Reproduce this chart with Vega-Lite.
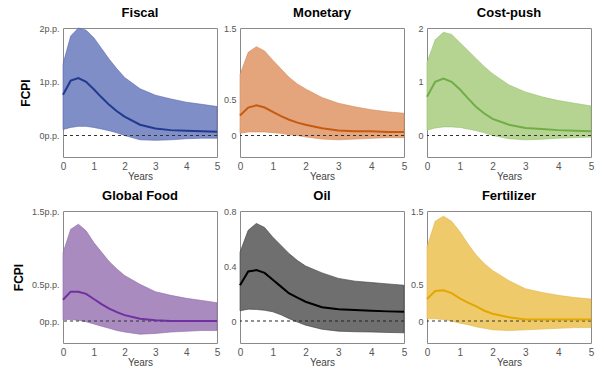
{
  "$schema": "https://vega.github.io/schema/vega-lite/v6.json",
  "padding": {"left": 11, "top": 6, "right": 5, "bottom": 5},
  "datasets": {
    "fiscal": [
      {"x":0,"hi":1.33,"m":0.76,"lo":0.11},{"x":0.25,"hi":1.85,"m":1.02,"lo":0.15},{"x":0.5,"hi":2.0,"m":1.07,"lo":0.17},{"x":0.75,"hi":1.96,"m":1.0,"lo":0.17},{"x":1,"hi":1.82,"m":0.86,"lo":0.15},{"x":1.25,"hi":1.62,"m":0.71,"lo":0.12},{"x":1.5,"hi":1.42,"m":0.57,"lo":0.09},{"x":1.75,"hi":1.24,"m":0.45,"lo":0.05},{"x":2,"hi":1.08,"m":0.35,"lo":0.0},{"x":2.5,"hi":0.87,"m":0.2,"lo":-0.08},{"x":3,"hi":0.75,"m":0.13,"lo":-0.09},{"x":3.5,"hi":0.68,"m":0.1,"lo":-0.08},{"x":4,"hi":0.62,"m":0.09,"lo":-0.06},{"x":4.5,"hi":0.58,"m":0.08,"lo":-0.05},{"x":5,"hi":0.54,"m":0.07,"lo":-0.05}
    ],
    "monetary": [
      {"x":0,"hi":0.85,"m":0.28,"lo":0.03},{"x":0.25,"hi":1.16,"m":0.39,"lo":0.05},{"x":0.5,"hi":1.24,"m":0.42,"lo":0.05},{"x":0.75,"hi":1.18,"m":0.39,"lo":0.05},{"x":1,"hi":1.05,"m":0.33,"lo":0.04},{"x":1.25,"hi":0.93,"m":0.27,"lo":0.03},{"x":1.5,"hi":0.81,"m":0.22,"lo":0.01},{"x":1.75,"hi":0.72,"m":0.18,"lo":0.0},{"x":2,"hi":0.65,"m":0.15,"lo":-0.02},{"x":2.5,"hi":0.53,"m":0.1,"lo":-0.05},{"x":3,"hi":0.45,"m":0.07,"lo":-0.06},{"x":3.5,"hi":0.4,"m":0.06,"lo":-0.05},{"x":4,"hi":0.36,"m":0.06,"lo":-0.04},{"x":4.5,"hi":0.33,"m":0.05,"lo":-0.03},{"x":5,"hi":0.31,"m":0.05,"lo":-0.03}
    ],
    "costpush": [
      {"x":0,"hi":1.36,"m":0.72,"lo":0.1},{"x":0.25,"hi":1.78,"m":1.0,"lo":0.14},{"x":0.5,"hi":1.92,"m":1.06,"lo":0.16},{"x":0.75,"hi":1.88,"m":1.0,"lo":0.16},{"x":1,"hi":1.73,"m":0.86,"lo":0.15},{"x":1.25,"hi":1.58,"m":0.69,"lo":0.12},{"x":1.5,"hi":1.43,"m":0.53,"lo":0.09},{"x":1.75,"hi":1.28,"m":0.41,"lo":0.05},{"x":2,"hi":1.15,"m":0.31,"lo":0.0},{"x":2.5,"hi":0.94,"m":0.2,"lo":-0.06},{"x":3,"hi":0.81,"m":0.14,"lo":-0.08},{"x":3.5,"hi":0.72,"m":0.12,"lo":-0.07},{"x":4,"hi":0.65,"m":0.1,"lo":-0.05},{"x":4.5,"hi":0.6,"m":0.09,"lo":-0.04},{"x":5,"hi":0.55,"m":0.08,"lo":-0.03}
    ],
    "food": [
      {"x":0,"hi":0.93,"m":0.29,"lo":0.02},{"x":0.25,"hi":1.25,"m":0.4,"lo":0.02},{"x":0.5,"hi":1.32,"m":0.4,"lo":0.01},{"x":0.75,"hi":1.23,"m":0.37,"lo":-0.01},{"x":1,"hi":1.07,"m":0.3,"lo":-0.04},{"x":1.25,"hi":0.94,"m":0.23,"lo":-0.07},{"x":1.5,"hi":0.81,"m":0.17,"lo":-0.1},{"x":1.75,"hi":0.71,"m":0.12,"lo":-0.13},{"x":2,"hi":0.62,"m":0.08,"lo":-0.15},{"x":2.5,"hi":0.5,"m":0.03,"lo":-0.18},{"x":3,"hi":0.4,"m":0.01,"lo":-0.17},{"x":3.5,"hi":0.35,"m":0.0,"lo":-0.15},{"x":4,"hi":0.31,"m":0.0,"lo":-0.14},{"x":4.5,"hi":0.28,"m":0.0,"lo":-0.13},{"x":5,"hi":0.25,"m":0.0,"lo":-0.13}
    ],
    "oil": [
      {"x":0,"hi":0.5,"m":0.26,"lo":0.074},{"x":0.25,"hi":0.66,"m":0.36,"lo":0.086},{"x":0.5,"hi":0.71,"m":0.37,"lo":0.084},{"x":0.75,"hi":0.68,"m":0.35,"lo":0.078},{"x":1,"hi":0.61,"m":0.3,"lo":0.067},{"x":1.25,"hi":0.55,"m":0.25,"lo":0.045},{"x":1.5,"hi":0.49,"m":0.2,"lo":0.017},{"x":1.75,"hi":0.44,"m":0.17,"lo":-0.008},{"x":2,"hi":0.4,"m":0.14,"lo":-0.03},{"x":2.5,"hi":0.35,"m":0.1,"lo":-0.06},{"x":3,"hi":0.31,"m":0.086,"lo":-0.074},{"x":3.5,"hi":0.29,"m":0.08,"lo":-0.078},{"x":4,"hi":0.28,"m":0.074,"lo":-0.08},{"x":4.5,"hi":0.27,"m":0.07,"lo":-0.083},{"x":5,"hi":0.26,"m":0.067,"lo":-0.086}
    ],
    "fert": [
      {"x":0,"hi":1.01,"m":0.3,"lo":0.03},{"x":0.25,"hi":1.36,"m":0.41,"lo":0.03},{"x":0.5,"hi":1.43,"m":0.42,"lo":0.02},{"x":0.75,"hi":1.36,"m":0.38,"lo":0.0},{"x":1,"hi":1.22,"m":0.31,"lo":-0.03},{"x":1.25,"hi":1.05,"m":0.25,"lo":-0.05},{"x":1.5,"hi":0.9,"m":0.2,"lo":-0.08},{"x":1.75,"hi":0.78,"m":0.14,"lo":-0.1},{"x":2,"hi":0.69,"m":0.1,"lo":-0.12},{"x":2.5,"hi":0.55,"m":0.05,"lo":-0.13},{"x":3,"hi":0.44,"m":0.02,"lo":-0.12},{"x":3.5,"hi":0.39,"m":0.02,"lo":-0.11},{"x":4,"hi":0.35,"m":0.02,"lo":-0.1},{"x":4.5,"hi":0.32,"m":0.02,"lo":-0.09},{"x":5,"hi":0.3,"m":0.02,"lo":-0.09}
    ]
  },
  "columns": 3,
  "spacing": {"row": 54, "column": 23},
  "bounds": "flush",
  "concat": [
    {
      "width": 154, "height": 129, "title": "Fiscal", "data": {"name": "fiscal"},
      "layer": [
        {"mark": {"type": "area", "color": "#7f8ec7", "opacity": 1, "stroke": "#5565ad", "strokeWidth": 0.6},
         "encoding": {"x": {"field": "x", "type": "quantitative", "scale": {"domain": [0, 5], "nice": false}, "axis": {"values": [0,1,2,3,4,5], "labelOverlap": false, "title": "Years"}},
                      "y": {"field": "hi", "type": "quantitative", "scale": {"domain": [-0.4, 2], "nice": false, "zero": false}, "axis": {"values": [0,1,2], "labelExpr": "datum.value + 'p.p.'", "title": "FCPI"}},
                      "y2": {"field": "lo"}}},
        {"data": {"values": [{}]}, "mark": {"type": "rule", "color": "#333", "strokeDash": [3, 3], "strokeWidth": 1}, "encoding": {"y": {"datum": 0}}},
        {"mark": {"type": "line", "color": "#22398f", "strokeWidth": 2},
         "encoding": {"x": {"field": "x", "type": "quantitative", "axis": {"values": [0,1,2,3,4,5], "labelOverlap": false, "title": "Years"}}, "y": {"field": "m", "type": "quantitative"}}}
      ]
    },
    {
      "width": 164, "height": 129, "title": "Monetary", "data": {"name": "monetary"},
      "layer": [
        {"mark": {"type": "area", "color": "#e5a57c", "opacity": 1, "stroke": "#d48a5c", "strokeWidth": 0.6},
         "encoding": {"x": {"field": "x", "type": "quantitative", "scale": {"domain": [0, 5], "nice": false}, "axis": {"values": [0,1,2,3,4,5], "labelOverlap": false, "title": "Years"}},
                      "y": {"field": "hi", "type": "quantitative", "scale": {"domain": [-0.3, 1.5], "nice": false, "zero": false}, "axis": {"values": [0,0.5,1.5], "title": null}},
                      "y2": {"field": "lo"}}},
        {"data": {"values": [{}]}, "mark": {"type": "rule", "color": "#333", "strokeDash": [3, 3], "strokeWidth": 1}, "encoding": {"y": {"datum": 0}}},
        {"mark": {"type": "line", "color": "#c55a11", "strokeWidth": 2},
         "encoding": {"x": {"field": "x", "type": "quantitative", "axis": {"values": [0,1,2,3,4,5], "labelOverlap": false, "title": "Years"}}, "y": {"field": "m", "type": "quantitative"}}}
      ]
    },
    {
      "width": 164, "height": 129, "title": "Cost-push", "data": {"name": "costpush"},
      "layer": [
        {"mark": {"type": "area", "color": "#b6d491", "opacity": 1, "stroke": "#98bd6e", "strokeWidth": 0.6},
         "encoding": {"x": {"field": "x", "type": "quantitative", "scale": {"domain": [0, 5], "nice": false}, "axis": {"values": [0,1,2,3,4,5], "labelOverlap": false, "title": "Years"}},
                      "y": {"field": "hi", "type": "quantitative", "scale": {"domain": [-0.4, 2], "nice": false, "zero": false}, "axis": {"values": [0,1,2], "title": null}},
                      "y2": {"field": "lo"}}},
        {"data": {"values": [{}]}, "mark": {"type": "rule", "color": "#333", "strokeDash": [3, 3], "strokeWidth": 1}, "encoding": {"y": {"datum": 0}}},
        {"mark": {"type": "line", "color": "#70ad47", "strokeWidth": 2},
         "encoding": {"x": {"field": "x", "type": "quantitative", "axis": {"values": [0,1,2,3,4,5], "labelOverlap": false, "title": "Years"}}, "y": {"field": "m", "type": "quantitative"}}}
      ]
    },
    {
      "width": 154, "height": 132, "title": "Global Food", "data": {"name": "food"},
      "layer": [
        {"mark": {"type": "area", "color": "#a98bbf", "opacity": 1, "stroke": "#8d6aa8", "strokeWidth": 0.6},
         "encoding": {"x": {"field": "x", "type": "quantitative", "scale": {"domain": [0, 5], "nice": false}, "axis": {"values": [0,1,2,3,4,5], "labelOverlap": false, "title": "Years"}},
                      "y": {"field": "hi", "type": "quantitative", "scale": {"domain": [-0.3, 1.5], "nice": false, "zero": false}, "axis": {"values": [0,0.5,1.5], "labelExpr": "datum.value + 'p.p.'", "title": "FCPI"}},
                      "y2": {"field": "lo"}}},
        {"data": {"values": [{}]}, "mark": {"type": "rule", "color": "#333", "strokeDash": [3, 3], "strokeWidth": 1}, "encoding": {"y": {"datum": 0}}},
        {"mark": {"type": "line", "color": "#7030a0", "strokeWidth": 2},
         "encoding": {"x": {"field": "x", "type": "quantitative", "axis": {"values": [0,1,2,3,4,5], "labelOverlap": false, "title": "Years"}}, "y": {"field": "m", "type": "quantitative"}}}
      ]
    },
    {
      "width": 164, "height": 132, "title": "Oil", "data": {"name": "oil"},
      "layer": [
        {"mark": {"type": "area", "color": "#6f6f6f", "opacity": 1, "stroke": "#3a3a3a", "strokeWidth": 0.6},
         "encoding": {"x": {"field": "x", "type": "quantitative", "scale": {"domain": [0, 5], "nice": false}, "axis": {"values": [0,1,2,3,4,5], "labelOverlap": false, "title": "Years"}},
                      "y": {"field": "hi", "type": "quantitative", "scale": {"domain": [-0.16, 0.8], "nice": false, "zero": false}, "axis": {"values": [0,0.4,0.8], "title": null}},
                      "y2": {"field": "lo"}}},
        {"data": {"values": [{}]}, "mark": {"type": "rule", "color": "#222", "strokeDash": [3, 3], "strokeWidth": 1}, "encoding": {"y": {"datum": 0}}},
        {"mark": {"type": "line", "color": "#000000", "strokeWidth": 2},
         "encoding": {"x": {"field": "x", "type": "quantitative", "axis": {"values": [0,1,2,3,4,5], "labelOverlap": false, "title": "Years"}}, "y": {"field": "m", "type": "quantitative"}}}
      ]
    },
    {
      "width": 164, "height": 132, "title": "Fertilizer", "data": {"name": "fert"},
      "layer": [
        {"mark": {"type": "area", "color": "#efca6a", "opacity": 1, "stroke": "#e0b44a", "strokeWidth": 0.6},
         "encoding": {"x": {"field": "x", "type": "quantitative", "scale": {"domain": [0, 5], "nice": false}, "axis": {"values": [0,1,2,3,4,5], "labelOverlap": false, "title": "Years"}},
                      "y": {"field": "hi", "type": "quantitative", "scale": {"domain": [-0.3, 1.5], "nice": false, "zero": false}, "axis": {"values": [0,0.5,1.5], "title": null}},
                      "y2": {"field": "lo"}}},
        {"data": {"values": [{}]}, "mark": {"type": "rule", "color": "#333", "strokeDash": [3, 3], "strokeWidth": 1}, "encoding": {"y": {"datum": 0}}},
        {"mark": {"type": "line", "color": "#e2a700", "strokeWidth": 2},
         "encoding": {"x": {"field": "x", "type": "quantitative", "axis": {"values": [0,1,2,3,4,5], "labelOverlap": false, "title": "Years"}}, "y": {"field": "m", "type": "quantitative"}}}
      ]
    }
  ],
  "config": {
    "font": "Liberation Sans",
    "view": {"stroke": "#8a8a8a", "strokeWidth": 1},
    "axis": {"domain": false, "ticks": false, "grid": false, "labelFontSize": 10, "labelColor": "#555", "labelPadding": 4, "labelOverlap": false, "labelFlush": false, "format": "~g", "titleFontSize": 10, "titleFontWeight": "normal", "titleColor": "#444"},
    "axisX": {"titlePadding": 0},
    "axisY": {"titleFontSize": 12, "titleFontWeight": "bold", "titleColor": "#000", "titlePadding": 6, "labelFontSize": 9},
    "title": {"fontSize": 13, "fontWeight": "bold", "offset": 4, "color": "#000"}
  }
}
